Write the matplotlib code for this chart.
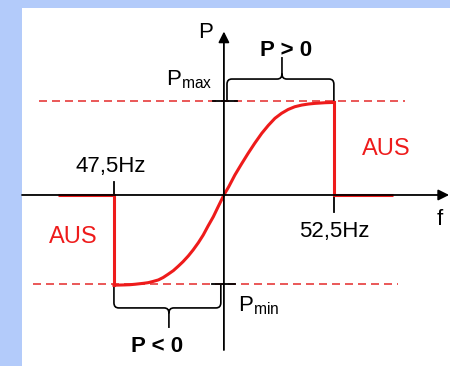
import matplotlib
matplotlib.use("Agg")
import matplotlib.pyplot as plt
from matplotlib.path import Path
from matplotlib.patches import PathPatch
import numpy as np

plt.rcParams['font.family'] = ['Liberation Sans', 'DejaVu Sans']
plt.rcParams['mathtext.default'] = 'regular'

# Kennlinie: Frequenz (Hz) -> Leistung (bezogen auf Pmax)
f_nenn = 50.0
f_min, f_max = 47.5, 52.5
p_max, p_min = 1.0, -0.95
kurve_f = [47.5, 47.75, 47.86, 47.98, 48.17, 48.28, 48.39, 48.51, 48.62, 48.73,
           48.85, 48.96, 49.07, 49.19, 49.30, 49.42, 49.53, 49.64, 49.76, 49.87,
           50.0, 50.11, 50.25, 50.40, 50.55, 50.70, 50.86, 51.01, 51.16, 51.31,
           51.46, 51.61, 51.77, 51.92, 52.07, 52.30, 52.5]
kurve_p = [-0.96, -0.957, -0.955, -0.95, -0.94, -0.933, -0.92, -0.904, -0.878, -0.844,
           -0.805, -0.759, -0.71, -0.649, -0.585, -0.507, -0.426, -0.33, -0.231, -0.124,
           0.0, 0.088, 0.213, 0.33, 0.443, 0.55, 0.656, 0.741, 0.816, 0.869,
           0.91, 0.939, 0.957, 0.968, 0.975, 0.982, 0.985]
aus_links = [46.23, 47.5]
aus_rechts = [52.5, 53.84]

rot = '#ee1b1b'
rot_hell = '#e63b3b'
blau = '#b3cbfa'

fig = plt.figure(figsize=(4.5, 3.66), dpi=100, facecolor=blau)
ax = fig.add_axes([22 / 450, 0, 1 - 22 / 450, 358 / 366])
ax.set_facecolor('white')
ax.set_xlim(45.41, 55.14)
ax.set_ylim(-1.82, 1.99)
ax.set_xticks([])
ax.set_yticks([])
for s in ax.spines.values():
    s.set_visible(False)

# Grenzlinien Pmax / Pmin
ax.plot([45.8, 54.11], [p_max, p_max], color=rot_hell, lw=1.2, dashes=(4.8, 3))
ax.plot([45.66, 53.95], [p_min, p_min], color=rot_hell, lw=1.2, dashes=(4.8, 3))

# Achsen mit Pfeilen
ax.annotate('', xy=(55.12, 0), xytext=(45.41, 0), annotation_clip=False,
            arrowprops=dict(arrowstyle='-|>', lw=1.3, color='black', mutation_scale=16,
                            shrinkA=0, shrinkB=0))
ax.annotate('', xy=(f_nenn, 1.74), xytext=(f_nenn, -1.65),
            arrowprops=dict(arrowstyle='-|>', lw=1.3, color='black', mutation_scale=16,
                            shrinkA=0, shrinkB=0))

# Markierungen
ax.plot([f_min, f_min], [0, 0.14], color='black', lw=1.3)
ax.plot([f_max, f_max], [0, -0.18], color='black', lw=1.3)
ax.plot([49.75, 50.3], [p_max, p_max], color='black', lw=1.3)
ax.plot([49.73, 50.25], [p_min, p_min], color='black', lw=1.3)

# Kennlinie
ax.plot(aus_links, [0, 0], color=rot, lw=2.2, solid_capstyle='butt')
ax.plot(aus_rechts, [0, 0], color=rot, lw=2.2, solid_capstyle='butt')
ax.plot([f_min, f_min], [0, kurve_p[0]], color=rot, lw=2.2)
ax.plot([f_max, f_max], [0, kurve_p[-1]], color=rot, lw=2.2)
ax.plot(kurve_f, kurve_p, color=rot, lw=2.2, solid_joinstyle='round')


def klammer(x0, x1, y0, y1, y_bar, x_tip, y_tip, rx=0.11, ry=0.055):
    s = np.sign(y_bar - y0)
    verts = [(x0, y0), (x0, y_bar - s * ry), (x0, y_bar), (x0 + rx, y_bar),
             (x_tip - rx, y_bar), (x_tip, y_bar), (x_tip, y_bar + s * ry), (x_tip, y_tip),
             (x_tip, y_bar + s * ry), (x_tip, y_bar), (x_tip + rx, y_bar),
             (x1 - rx, y_bar), (x1, y_bar), (x1, y_bar - s * ry), (x1, y1)]
    codes = [Path.MOVETO, Path.LINETO, Path.CURVE3, Path.CURVE3,
             Path.LINETO, Path.CURVE3, Path.CURVE3, Path.LINETO,
             Path.MOVETO, Path.CURVE3, Path.CURVE3,
             Path.LINETO, Path.CURVE3, Path.CURVE3, Path.LINETO]
    ax.add_patch(PathPatch(Path(verts, codes), fill=False, ec='black', lw=1.2))


klammer(50.07, f_max, p_max, p_max, 1.234, 51.32, 1.468)
klammer(f_min, 49.93, kurve_p[0], p_min, -1.202, 48.75, -1.415)

# Beschriftung
ax.text(49.59, 1.67, 'P', fontsize=16, ha='center', va='baseline')
ax.text(51.41, 1.48, 'P > 0', fontsize=16, fontweight='bold', ha='center', va='baseline')
ax.text(48.48, -1.67, 'P < 0', fontsize=16, fontweight='bold', ha='center', va='baseline')
ax.text(49.73, 1.17, r'P$_{max}$', fontsize=16, ha='right', va='baseline')
ax.text(50.32, -1.234, r'P$_{min}$', fontsize=16, ha='left', va='baseline')
ax.text(53.68, 0.426, 'AUS', fontsize=17, color=rot, ha='center', va='baseline')
ax.text(46.57, -0.511, 'AUS', fontsize=17, color=rot, ha='center', va='baseline')
ax.text(47.43, 0.245, '47,5Hz', fontsize=16, ha='center', va='baseline')
ax.text(52.51, -0.447, '52,5Hz', fontsize=16, ha='center', va='baseline')
ax.text(54.91, -0.319, 'f', fontsize=16, ha='center', va='baseline')

fig.savefig('out.png', dpi=100, facecolor=blau)
